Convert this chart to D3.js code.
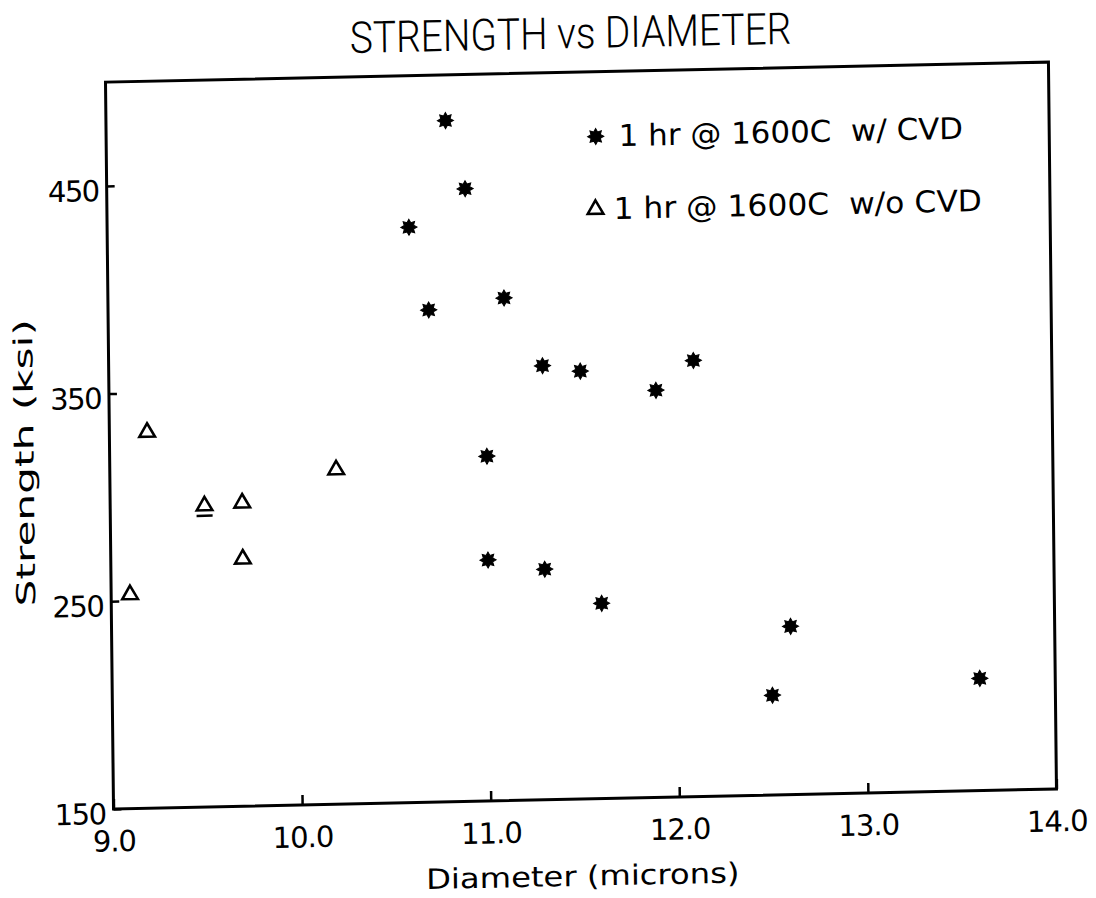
<!DOCTYPE html>
<html><head><meta charset="utf-8">
<script src="https://cdn.jsdelivr.net/npm/d3@7"></script>
<style>html,body{margin:0;padding:0;background:#fff;} text{white-space:pre;}</style>
</head><body>
<svg id="chart" width="1096" height="898"></svg>
<script>
// ---- data ----
const chartTitle = "STRENGTH vs DIAMETER";
const xLabel = "Diameter (microns)";
const yLabel = "Strength (ksi)";
const seriesNames = ["1 hr @ 1600C  w/ CVD", "1 hr @ 1600C  w/o CVD"];
const xTicks = [9, 10, 11, 12, 13, 14];
const xTickLabels = ["9.0", "10.0", "11.0", "12.0", "13.0", "14.0"];
const yTicks = [150, 250, 350, 450];
const yTickLabels = ["150", "250", "350", "450"];
const withCvdX = [10.8, 10.9, 10.6, 10.7, 11.1, 11.3, 11.5, 12.1, 11.9, 11.0, 11.0, 11.3, 11.6, 12.6, 12.5, 13.6];
const withCvdY = [478, 445, 427, 387, 392, 359, 356, 360, 346, 316, 266, 261, 244, 231, 198, 204];
const withoutCvdX = [9.2, 9.5, 9.7, 9.7, 10.2, 9.1];
const withoutCvdY = [331, 295, 296, 269, 311, 253];
const withoutCvdUnderlined = [false, true, false, false, false, false];

// ---- layout ----
const W = 942, H = 729;
const svg = d3.select("#chart");
// scanned page is slightly skewed: map the plot frame onto it
const g = svg.append("g").attr("transform", "matrix(1.001,-0.0212,0.011,0.997,105.5,82.1)");

const x = d3.scaleLinear().domain([9, 14]).range([0, W]);
const y = d3.scaleLinear().domain([150, 500]).range([H, 0]);

const font = "'DejaVu Sans', sans-serif";

// frame
g.append("rect").attr("x", 0).attr("y", 0).attr("width", W).attr("height", H)
  .attr("fill", "none").attr("stroke", "#000").attr("stroke-width", 3);

// x axis
const xAxis = d3.axisBottom(x).tickValues(xTicks)
  .tickFormat((d, i) => xTickLabels[i]).tickSize(-10).tickPadding(22);
const gx = g.append("g").attr("transform", `translate(0,${H})`).call(xAxis);
gx.select(".domain").remove();
gx.selectAll(".tick line").attr("stroke", "#000").attr("stroke-width", 2.5);
gx.selectAll(".tick text").attr("font-family", font).attr("font-size", 29).attr("fill", "#000")
  .attr("letter-spacing", -1);

// y axis
const yAxis = d3.axisLeft(y).tickValues(yTicks)
  .tickFormat((d, i) => yTickLabels[i]).tickSize(-8).tickPadding(8);
const gy = g.append("g").call(yAxis);
gy.select(".domain").remove();
gy.selectAll(".tick line").attr("stroke", "#000").attr("stroke-width", 2.5);
gy.selectAll(".tick text").attr("font-family", font).attr("font-size", 29)
  .attr("fill", "#000").attr("dy", "0.5em").attr("letter-spacing", -1.5);

// title
g.append("text").attr("x", W / 2 - 6).attr("y", -24).attr("text-anchor", "middle")
  .attr("font-family", "Roboto, 'Liberation Sans', sans-serif").attr("font-weight", 300).attr("font-size", 44)
  .attr("textLength", 441).attr("lengthAdjust", "spacingAndGlyphs")
  .attr("fill", "#000").text(chartTitle);

// axis titles
g.append("text").attr("x", W / 2 - 3).attr("y", 816).attr("text-anchor", "middle")
  .attr("font-family", font).attr("font-size", 28)
  .attr("textLength", 313).attr("lengthAdjust", "spacingAndGlyphs")
  .attr("fill", "#000").text(xLabel);

g.append("text").attr("transform", "translate(-76,380) rotate(-90)").attr("text-anchor", "middle")
  .attr("font-family", font).attr("font-size", 26)
  .attr("textLength", 288).attr("lengthAdjust", "spacingAndGlyphs")
  .attr("fill", "#000").text(yLabel);

// star symbol (8-point filled)
const starSymbol = {
  draw(ctx, size) {
    const R = Math.sqrt(size) / 2, r = R * 0.62;
    for (let i = 0; i < 16; i++) {
      const a = i * Math.PI / 8;
      const rr = i % 2 === 0 ? R : r;
      const px = rr * Math.cos(a), py = rr * Math.sin(a);
      if (i === 0) ctx.moveTo(px, py); else ctx.lineTo(px, py);
    }
    ctx.closePath();
  }
};
const starPath = d3.symbol().type(starSymbol).size(260)();
const triPath = d3.symbol().type(d3.symbolTriangle).size(105)();

const withData = withCvdX.map((v, i) => ({ x: v, y: withCvdY[i] }));
const withoutData = withoutCvdX.map((v, i) => ({ x: v, y: withoutCvdY[i], u: withoutCvdUnderlined[i] }));

g.append("g").selectAll("path").data(withData).join("path")
  .attr("d", starPath).attr("transform", d => `translate(${x(d.x)},${y(d.y)})`)
  .attr("fill", "#000").attr("stroke", "#000").attr("stroke-width", 1);

g.append("g").selectAll("path").data(withoutData).join("path")
  .attr("d", triPath).attr("transform", d => `translate(${x(d.x)},${y(d.y)})`)
  .attr("fill", "none").attr("stroke", "#000").attr("stroke-width", 2.6).attr("stroke-linejoin", "miter");

g.append("g").selectAll("line").data(withoutData.filter(d => d.u)).join("line")
  .attr("x1", d => x(d.x) - 8).attr("x2", d => x(d.x) + 8)
  .attr("y1", d => y(d.y) + 10).attr("y2", d => y(d.y) + 10)
  .attr("stroke", "#000").attr("stroke-width", 2.5);

// legend
const legend = g.append("g");
legend.append("path").attr("d", starPath).attr("transform", "translate(489,65)")
  .attr("fill", "#000").attr("stroke", "#000").attr("stroke-width", 1);
legend.append("text").attr("x", 512).attr("y", 75)
  .attr("font-family", font).attr("font-size", 30)
  .attr("textLength", 344).attr("lengthAdjust", "spacingAndGlyphs")
  .attr("fill", "#000").text(seriesNames[0]);
legend.append("path").attr("d", triPath).attr("transform", "translate(488,138)")
  .attr("fill", "none").attr("stroke", "#000").attr("stroke-width", 2.6);
legend.append("text").attr("x", 506).attr("y", 148)
  .attr("font-family", font).attr("font-size", 30)
  .attr("textLength", 368).attr("lengthAdjust", "spacingAndGlyphs")
  .attr("fill", "#000").text(seriesNames[1]);
</script>
</body></html>
